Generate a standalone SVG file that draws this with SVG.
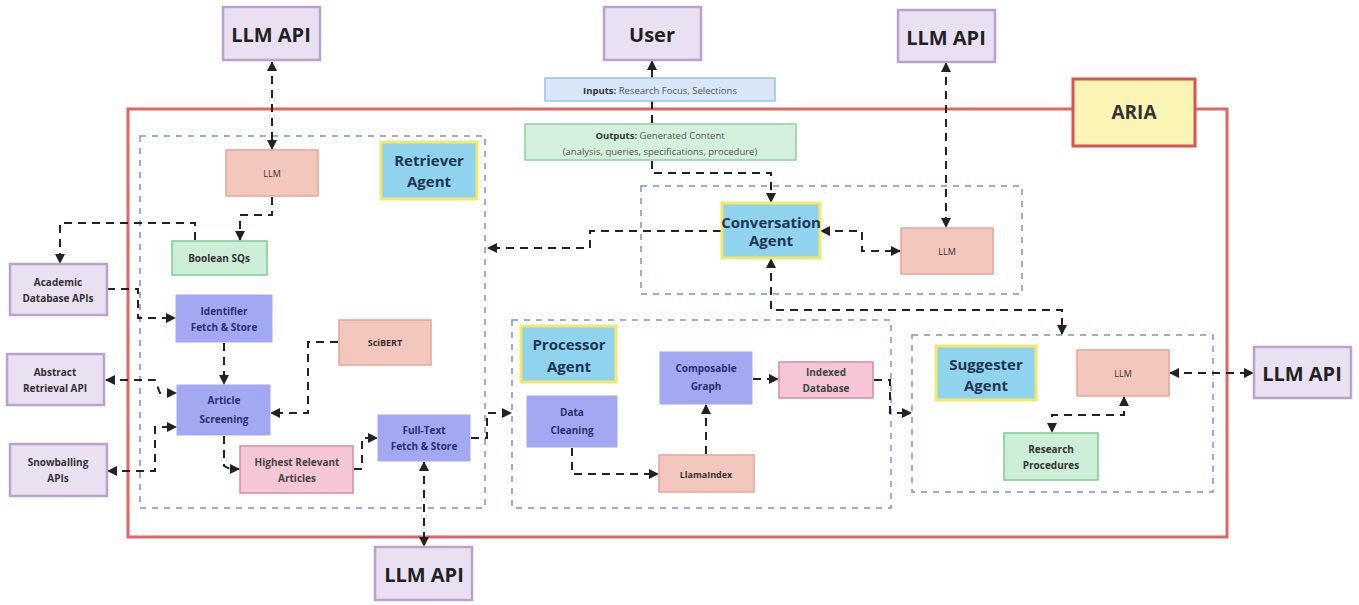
<svg xmlns="http://www.w3.org/2000/svg" width="1359" height="605" viewBox="0 0 1359 605">
<defs>
<marker id="ah" viewBox="0 0 10 10" refX="9" refY="5" markerWidth="5" markerHeight="5" orient="auto-start-reverse">
<path d="M0,0 L10,5 L0,10 z" fill="#222"/>
</marker>
<style>
text{font-family:"Open Sans","Liberation Sans",sans-serif;text-anchor:middle;dominant-baseline:central}
.api rect{fill:#e9e0f1;stroke:#b9a3cc;stroke-width:2.5}
.api text{font-size:20px;font-weight:700;fill:#222}
.apis rect{fill:#e9e0f1;stroke:#b9a3cc;stroke-width:2.5}
.apis text{font-size:10px;font-weight:700;fill:#333}
.llm rect{fill:#f3c7bd;stroke:#e2a796;stroke-width:1.5}
.llm text{font-size:9px;fill:#333}
.grn rect{fill:#cdeed6;stroke:#7fca92;stroke-width:1.5}
.grn text{font-size:10px;font-weight:700;fill:#333}
.blu rect{fill:#a3a8f2;stroke:#a3a8f2;stroke-width:1}
.blu text{font-size:10px;font-weight:700;fill:#2b2f6e}
.pnk rect{fill:#f4c6d6;stroke:#d98aa2;stroke-width:1.5}
.pnk text{font-size:10px;font-weight:700;fill:#444}
.agt rect{fill:#8fd3ee;stroke:#f3e86a;stroke-width:3}
.agt text{font-size:15px;font-weight:700;fill:#1f3550}
.grp{fill:none;stroke:#7b8fd6;stroke-width:1.5;stroke-dasharray:6 6}
.c{fill:none;stroke:#222;stroke-width:2;stroke-dasharray:8 6}
.ca{marker-end:url(#ah)}
.cb{marker-start:url(#ah);marker-end:url(#ah)}
</style>
</defs>
<rect width="1359" height="605" fill="#fff"/>

<g id="aria-frame">
<path d="M1073,109 H128 V537 H1227 V109 H1195" fill="none" stroke="#e06666" stroke-width="3"/>
</g>

<g id="groups">
<rect id="retriever-group" class="grp" x="140" y="136" width="345" height="372"/>
<rect id="conversation-group" class="grp" x="641" y="186" width="381" height="108"/>
<rect id="processor-group" class="grp" x="512" y="320" width="379" height="188"/>
<rect id="suggester-group" class="grp" x="912" y="335" width="301" height="157"/>
</g>

<g id="connectors">
<path class="c cb" d="M272,62 V149"/>
<path class="c ca" d="M272,197 V215 H240 V240"/>
<path class="c ca" d="M195,240 V223 H60 V263"/>
<path class="c ca" d="M107,289 H138 V318 H175"/>
<path class="c cb" d="M106,380 H155 L160,393 H176"/>
<path class="c cb" d="M108,471 H155 V427 H176"/>
<path class="c ca" d="M224,343 V384"/>
<path class="c ca" d="M338,342 H308 V413 H271"/>
<path class="c ca" d="M224,436 V466 L230,469 H239"/>
<path class="c ca" d="M354,469 H362 V438 H377"/>
<path class="c cb" d="M424,462 V546"/>
<path class="c ca" d="M471,438 H487 V413 H511"/>
<path class="c ca" d="M721,231 H590 V248 H488"/>
<path class="c cb" d="M821,231 H862 V251 H900"/>
<path class="c cb" d="M946,63 V227"/>
<path class="c cb" d="M771,259 V310 H1062 V334"/>
<path class="c" d="M652,101 V124"/>
<path class="c ca" d="M652,78 V61"/>
<path class="c ca" d="M652,161 V173 H771 V202"/>
<path class="c ca" d="M572,448 V474 H658"/>
<path class="c ca" d="M706,454 V405"/>
<path class="c ca" d="M753,379 H778"/>
<path class="c ca" d="M874,380 H890 V413 H911"/>
<path class="c cb" d="M1170,373 H1253"/>
<path class="c cb" d="M1124,397 V415 H1052 V432"/>
</g>

<g id="aria" >
<rect x="1073" y="79" width="122" height="67" fill="#fbf5b5" stroke="#d9534f" stroke-width="3"/>
<text x="1134" y="112" font-size="19" font-weight="700" fill="#333">ARIA</text>
</g>

<g id="llm-api-top-left" class="api"><rect x="223" y="7" width="97" height="53"/><text x="271" y="34">LLM API</text></g>
<g id="user" class="api"><rect x="604" y="7" width="97" height="53"/><text x="652" y="34">User</text></g>
<g id="llm-api-top-right" class="api"><rect x="898" y="10" width="97" height="52"/><text x="946" y="37">LLM API</text></g>
<g id="llm-api-bottom" class="api"><rect x="375" y="547" width="97" height="53"/><text x="424" y="574">LLM API</text></g>
<g id="llm-api-right" class="api"><rect x="1254" y="347" width="97" height="51"/><text x="1302" y="373">LLM API</text></g>

<g id="inputs">
<rect x="545" y="78" width="230" height="23" fill="#d7e7f8" stroke="#9cc0ea" stroke-width="1.5"/>
<text x="660" y="90" font-size="9.5" fill="#555"><tspan font-weight="700" fill="#333">Inputs:</tspan> Research Focus, Selections</text>
</g>
<g id="outputs">
<rect x="525" y="124" width="271" height="36" fill="#d4f0dc" stroke="#8fd09e" stroke-width="1.5"/>
<text x="660" y="135" font-size="9.5" fill="#555"><tspan font-weight="700" fill="#333">Outputs:</tspan> Generated Content</text>
<text x="660" y="151" font-size="9.5" fill="#555">(analysis, queries, specifications, procedure)</text>
</g>

<g id="retriever-agent" class="agt"><rect x="381" y="142" width="96" height="57"/><text x="429" y="160">Retriever</text><text x="429" y="181">Agent</text></g>
<g id="llm-retriever" class="llm"><rect x="226" y="150" width="92" height="46"/><text x="272" y="173">LLM</text></g>
<g id="boolean-sqs" class="grn"><rect x="172" y="241" width="95" height="34"/><text x="219" y="258">Boolean SQs</text></g>
<g id="identifier-fetch" class="blu"><rect x="176" y="295" width="96" height="47"/><text x="224" y="311">Identifier</text><text x="224" y="327">Fetch &amp; Store</text></g>
<g id="scibert" class="llm"><rect x="339" y="320" width="92" height="45"/><text x="385" y="342" font-weight="700">SciBERT</text></g>
<g id="article-screening" class="blu"><rect x="177" y="385" width="93" height="50"/><text x="224" y="400" font-size="12">Article</text><text x="224" y="419" font-size="12">Screening</text></g>
<g id="highest-relevant" class="pnk"><rect x="240" y="446" width="113" height="47"/><text x="297" y="462">Highest Relevant</text><text x="297" y="478">Articles</text></g>
<g id="fulltext-fetch" class="blu"><rect x="378" y="415" width="92" height="46"/><text x="424" y="430">Full-Text</text><text x="424" y="446">Fetch &amp; Store</text></g>
<g id="academic-db" class="apis"><rect x="10" y="264" width="97" height="51"/><text x="58" y="282">Academic</text><text x="58" y="298">Database APIs</text></g>
<g id="abstract-retrieval" class="apis"><rect x="7" y="354" width="97" height="51"/><text x="55" y="372">Abstract</text><text x="55" y="388">Retrieval API</text></g>
<g id="snowballing" class="apis"><rect x="10" y="444" width="97" height="52"/><text x="58" y="462">Snowballing</text><text x="58" y="478">APIs</text></g>

<g id="conversation-agent" class="agt"><rect x="722" y="203" width="98" height="55"/><text x="771" y="222" font-size="11.5">Conversation</text><text x="771" y="240" font-size="11.5">Agent</text></g>
<g id="llm-conversation" class="llm"><rect x="901" y="228" width="92" height="46"/><text x="947" y="251">LLM</text></g>

<g id="processor-agent" class="agt"><rect x="521" y="326" width="95" height="56"/><text x="569" y="344">Processor</text><text x="569" y="366">Agent</text></g>
<g id="data-cleaning" class="blu"><rect x="527" y="396" width="90" height="51"/><text x="572" y="412">Data</text><text x="572" y="430">Cleaning</text></g>
<g id="composable-graph" class="blu"><rect x="660" y="352" width="92" height="52"/><text x="706" y="368">Composable</text><text x="706" y="386">Graph</text></g>
<g id="indexed-database" class="pnk"><rect x="779" y="362" width="94" height="36"/><text x="826" y="372">Indexed</text><text x="826" y="388">Database</text></g>
<g id="llamaindex" class="llm"><rect x="659" y="455" width="95" height="37"/><text x="706" y="474" font-size="10" font-weight="700">LlamaIndex</text></g>

<g id="suggester-agent" class="agt"><rect x="936" y="346" width="100" height="54"/><text x="986" y="364">Suggester</text><text x="986" y="385">Agent</text></g>
<g id="llm-suggester" class="llm"><rect x="1077" y="350" width="92" height="46"/><text x="1123" y="373">LLM</text></g>
<g id="research-procedures" class="grn"><rect x="1004" y="433" width="94" height="47"/><text x="1051" y="449">Research</text><text x="1051" y="465">Procedures</text></g>
</svg>
